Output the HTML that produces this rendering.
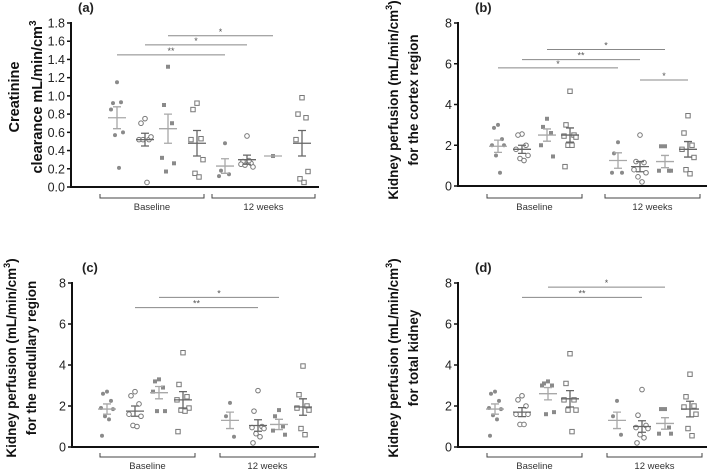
<!DOCTYPE html>
<html><head><meta charset="utf-8">
<style>
html,body{margin:0;padding:0;background:#fff;}
svg{display:block;font-family:"Liberation Sans",sans-serif;}
</style></head>
<body>
<svg id="fig" width="709" height="472" viewBox="0 0 709 472"></svg>
<script>
// ---- data ----
const groupLabels = ["Baseline","12 weeks"];
const aTicks = [0,0.2,0.4,0.6,0.8,1.0,1.2,1.4,1.6,1.8];
const pTicks = [0,2,4,6,8];
const aValues = [
 [1.15,0.92,0.93,0.85,0.6,0.57,0.21],
 [0.75,0.70,0.52,0.52,0.55,0.52,0.05],
 [1.32,0.90,0.70,0.32,0.26,0.17],
 [0.92,0.85,0.53,0.52,0.3,0.15,0.11],
 [0.48,0.18,0.14,0.12],
 [0.56,0.28,0.26,0.25,0.22,0.24,0.29],
 [0.34],
 [0.98,0.80,0.76,0.52,0.17,0.09,0.05]];
const aMeans = [0.76,0.52,0.64,0.48,0.23,0.30,0.34,0.48];
const aSems = [0.12,0.07,0.16,0.14,0.08,0.05,0,0.14];
const aSig = [[0,4,1.45,"**"],[1,5,1.56,"*"],[2,6,1.66,"*"]];
const bValues = [
 [3.0,2.85,2.3,2.0,2.0,1.5,0.65],
 [2.55,2.5,2.0,1.8,1.5,1.35,1.25],
 [3.3,2.9,2.6,2.0,1.45],
 [4.65,3.0,2.5,2.45,2.4,2.0,2.0,0.95],
 [2.15,1.6,0.65,0.65],
 [2.5,1.2,1.15,0.8,0.65,0.45,0.2],
 [1.95,1.95,0.75,0.75,0.75],
 [3.45,2.6,2.0,1.8,1.4,0.8,0.6]];
const bMeans = [1.95,1.8,2.5,2.5,1.25,0.95,1.2,1.8];
const bSems = [0.3,0.2,0.3,0.35,0.38,0.25,0.3,0.38];
const bSig = [[0,4,5.8,"*"],[1,5,6.2,"**"],[2,6,6.7,"*"],[5,7,5.2,"*"]];
const cValues = [
 [2.7,2.6,2.25,1.9,1.85,1.5,1.35,0.55],
 [2.7,2.5,2.1,1.6,1.5,1.05,1.0],
 [3.3,3.2,2.9,2.7,1.75,1.75],
 [4.6,3.05,2.45,2.3,1.9,1.8,1.75,0.75],
 [2.15,1.5,0.5],
 [2.75,1.75,1.0,0.95,0.9,0.65,0.5,0.2],
 [1.8,1.5,1.0,0.8,0.6],
 [3.95,2.55,2.0,1.9,1.8,0.9,0.6]];
const cMeans = [1.85,1.75,2.65,2.3,1.3,1.05,1.1,1.95];
const cSems = [0.25,0.25,0.3,0.4,0.4,0.28,0.25,0.4];
const cSig = [[1,5,6.8,"**"],[2,6,7.3,"*"]];
const dValues = [
 [2.7,2.6,2.25,1.9,1.85,1.55,1.35,0.55],
 [2.5,2.3,2.0,1.6,1.6,1.1,1.1],
 [3.2,3.1,3.0,3.0,1.7,1.6],
 [4.55,3.1,2.3,2.3,1.8,1.8,0.75],
 [2.25,1.5,0.6],
 [2.8,1.55,1.05,0.95,0.9,0.6,0.45,0.2],
 [1.85,1.85,0.95,0.65,0.65],
 [3.55,2.45,2.0,1.95,1.6,0.9,0.55]];
const dMeans = [1.85,1.7,2.6,2.35,1.3,1.0,1.15,1.85];
const dSems = [0.25,0.22,0.3,0.4,0.4,0.28,0.28,0.38];
const dSig = [[1,5,7.3,"**"],[2,6,7.8,"*"]];

const NS="http://www.w3.org/2000/svg";
const svg=document.getElementById('fig');
function mk(tag,attrs,parent){const e=document.createElementNS(NS,tag);for(const k in attrs)e.setAttribute(k,attrs[k]);(parent||svg).appendChild(e);return e;}

function panel(cfg){
  const g=mk('g',{});
  
  
  const ymin=cfg.ticks[0], ymax=cfg.ticks[cfg.ticks.length-1];
  const yS=v=>cfg.y0+(v-ymin)/(ymax-ymin)*(cfg.yTop-cfg.y0);
  const xS=i=>cfg.gx[i];
  const lt=mk('text',{x:cfg.lx,y:cfg.ly,'font-size':13,'font-weight':'bold',fill:'#222'},g);
  lt.textContent='('+cfg.id+')';
  
  
  const ax=mk('line',{x1:cfg.ax,y1:cfg.yTop-1,x2:cfg.ax,y2:cfg.y0+1,stroke:'#111','stroke-width':2},g);
  
  
  const bx=mk('line',{x1:cfg.ax,y1:cfg.y0,x2:cfg.axEnd,y2:cfg.y0,stroke:'#111','stroke-width':2},g);
  
  
  cfg.ticks.forEach(t=>{
    const y=yS(t);
    mk('line',{x1:cfg.ax-4,y1:y,x2:cfg.ax,y2:y,stroke:'#111','stroke-width':1.5},g);
    const tx=mk('text',{x:cfg.ax-6,y:y+4.5,'font-size':12.5,'text-anchor':'end',fill:'#222'},g);
    tx.textContent=cfg.dec?t.toFixed(1):String(t);
    
    
  });
  const tt=mk('text',{transform:`translate(${cfg.tx},${cfg.tcy}) rotate(-90)`,'font-size':cfg.tfs||13.5,'font-weight':'bold','text-anchor':'middle',fill:'#111'},g);
  cfg.title.forEach((ln,k)=>{
    const ts=mk('tspan',{x:0,dy:k===0?0:cfg.tgap},tt);
    ts.innerHTML=ln;
  });
  
  
  cfg.br.forEach((b,k)=>{
    const p=mk('path',{d:`M${b[0]},${cfg.by-4}V${cfg.by}H${b[1]}V${cfg.by-4}`,fill:'none',stroke:'#444','stroke-width':1},g);
    
    
    const t=mk('text',{x:(b[0]+b[1])/2,y:cfg.by+12,'font-size':9.5,'text-anchor':'middle',fill:'#333'},g);
    t.textContent=groupLabels[k];
    
    
  });
  cfg.sig.forEach(s=>{
    const y=yS(s[2]);
    const l=mk('line',{x1:xS(s[0]),y1:y,x2:xS(s[1]),y2:y,stroke:'#888','stroke-width':1},g);
    
    
    const t=mk('text',{x:(xS(s[0])+xS(s[1]))/2,y:y-1,'font-size':9,'text-anchor':'middle',fill:'#555'},g);
    t.textContent=s[3];
    
    
  });
  const offs=[0,-4,4,-6,6,-2,2,-5];
  cfg.values.forEach((arr,gi)=>{
    const style=gi%4;
    const cx0=xS(gi);
    arr.forEach((v,k)=>{
      const x=cx0+offs[k%offs.length], y=yS(v);
      let e;
      if(style===0) e=mk('circle',{cx:x,cy:y,r:2,fill:'#8a8a8a'},g);
      else if(style===1) e=mk('circle',{cx:x,cy:y,r:2.3,fill:'#fff',stroke:'#777','stroke-width':1},g);
      else if(style===2) e=mk('rect',{x:x-2,y:y-2,width:4,height:4,fill:'#8a8a8a'},g);
      else e=mk('rect',{x:x-2.2,y:y-2.2,width:4.4,height:4.4,fill:'#fff',stroke:'#777','stroke-width':1},g);
      
      
    });
    const m=cfg.means[gi], s=cfg.sems[gi];
    const col=(style===0||style===2)?'#a8a8a8':'#666';
    const ym=yS(m), yh=yS(m+s), yl=yS(m-s);
    const mb=mk('path',{d:`M${cx0-9},${ym}H${cx0+9}M${cx0},${yh}V${yl}M${cx0-4},${yh}H${cx0+4}M${cx0-4},${yl}H${cx0+4}`,stroke:col,'stroke-width':1.3,fill:'none'},g);
    
    
  });
}
panel({id:'a',ticks:aTicks,dec:true,values:aValues,means:aMeans,sems:aSems,sig:aSig,
  ax:71,axEnd:319,y0:187,yTop:23,gx:[117,145,168,197,225,247,273,302],
  lx:78,ly:12,br:[[100,204],[212,315]],by:198,tfs:14.5,
  title:['Creatinine','clearance mL/min/cm<tspan dy="-6" font-size="10">3</tspan>'],tx:19,tcy:97,tgap:23});
panel({id:'b',ticks:pTicks,values:bValues,means:bMeans,sems:bSems,sig:bSig,
  ax:458,axEnd:707,y0:186,yTop:23,gx:[498,522,547,570,618,640,665,688],
  lx:475,ly:12,br:[[487,582],[605,700]],by:198,
  title:['Kidney perfusion (mL/min/cm<tspan dy="-6" font-size="9">3</tspan><tspan dy="6">)</tspan>','for the cortex region'],tx:398,tcy:100,tgap:20});
panel({id:'c',ticks:pTicks,values:cValues,means:cMeans,sems:cSems,sig:cSig,
  ax:72,axEnd:319,y0:447,yTop:283,gx:[107,135,159,183,230,258,279,303],
  lx:82,ly:272,br:[[100,195],[220,315]],by:457,
  title:['Kidney perfusion (mL/min/cm<tspan dy="-6" font-size="9">3</tspan><tspan dy="6">)</tspan>','for the medullary region'],tx:16,tcy:358,tgap:20});
panel({id:'d',ticks:pTicks,values:dValues,means:dMeans,sems:dSems,sig:dSig,
  ax:458,axEnd:707,y0:447,yTop:283,gx:[495,522,548,570,617,642,665,690],
  lx:475,ly:272,br:[[487,582],[607,702]],by:457,
  title:['Kidney perfusion (mL/min/cm<tspan dy="-6" font-size="9">3</tspan><tspan dy="6">)</tspan>','for total kidney'],tx:398,tcy:358,tgap:20});
</script>
</body></html>
